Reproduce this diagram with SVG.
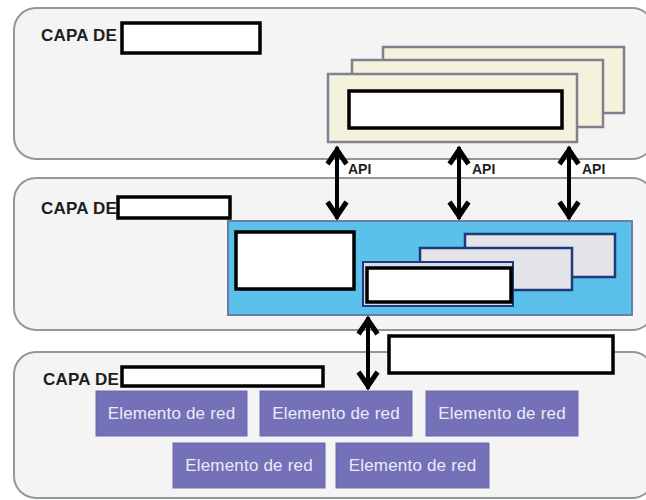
<svg xmlns="http://www.w3.org/2000/svg" width="646" height="500" viewBox="0 0 646 500">
<defs>
<style>
.panel{fill:#f4f4f4;stroke:#8e9998;stroke-width:2}
.lbl{font-family:"Liberation Sans",Arial,sans-serif;font-weight:bold;font-size:17px;letter-spacing:0.2px;fill:#1e1e1e}
.api{font-family:"Liberation Sans",Arial,sans-serif;font-weight:bold;font-size:14px;fill:#1e1e1e}
.blank{fill:#ffffff;stroke:#000000;stroke-width:3.5}
.cream{fill:#f4f1dc;stroke:#80808e;stroke-width:2.5}
.gray{fill:#e4e4e8;stroke:#1e3a7a;stroke-width:2.5}
.blue{fill:#5bc1ea;stroke:#6a7fa8;stroke-width:2}
.ne{fill:#7571b8;stroke:#6c68ae;stroke-width:1}
.net{font-family:"Liberation Sans",Arial,sans-serif;font-size:17px;letter-spacing:0.2px;fill:#ecebf7;text-anchor:middle}
.arr{stroke:#000;stroke-width:4;fill:none;marker-start:url(#head);marker-end:url(#head)}
</style>
<marker id="head" markerUnits="userSpaceOnUse" viewBox="-3 -12 24 24" refX="17" refY="0" markerWidth="24" markerHeight="24" orient="auto-start-reverse">
<path d="M0,-9.5 L14,0 L0,9.5" fill="none" stroke="#000" stroke-width="5" stroke-linejoin="miter"/>
</marker>
</defs>
<rect width="646" height="500" fill="#ffffff"/>

<g id="capa-superior">
<rect class="panel" x="14" y="8" width="640" height="151" rx="22"/>
<text class="lbl" x="41" y="41">CAPA DE</text>
<rect class="blank" x="122" y="23" width="138" height="30"/>
</g>

<g id="aplicaciones">
<rect class="cream" x="383" y="47" width="241" height="66"/>
<rect class="cream" x="352" y="60" width="251" height="67"/>
<rect class="cream" x="328" y="74" width="249" height="68"/>
<rect class="blank" x="349" y="91" width="213" height="37"/>
</g>

<g id="capa-media">
<rect class="panel" x="14" y="178" width="640" height="152" rx="22"/>
<text class="lbl" x="41" y="214">CAPA DE</text>
<rect class="blank" x="118" y="197" width="112" height="21"/>
</g>

<g id="controlador">
<rect class="blue" x="228" y="221" width="404" height="94"/>
<rect class="blank" x="236" y="232" width="118" height="57"/>
<rect class="gray" x="465" y="234" width="150" height="43"/>
<rect class="gray" x="420" y="248" width="152" height="42"/>
<rect x="363" y="262" width="150" height="44" fill="#d9d9ec" stroke="#1e3a7a" stroke-width="2"/>
<rect class="blank" x="367" y="268" width="144" height="34"/>
</g>

<g id="capa-inferior">
<rect class="panel" x="14" y="352" width="640" height="146" rx="22"/>
<text class="lbl" x="43" y="385">CAPA DE</text>
<rect class="blank" x="122" y="367" width="201" height="19"/>
</g>

<g id="etiqueta-interfaz">
<rect class="blank" x="389" y="336" width="224" height="37"/>
</g>

<g id="elemento-1"><rect class="ne" x="96" y="391" width="151" height="45"/><text class="net" x="171.5" y="419">Elemento de red</text></g>
<g id="elemento-2"><rect class="ne" x="260" y="391" width="152" height="45"/><text class="net" x="336" y="419">Elemento de red</text></g>
<g id="elemento-3"><rect class="ne" x="426" y="391" width="152" height="45"/><text class="net" x="502" y="419">Elemento de red</text></g>
<g id="elemento-4"><rect class="ne" x="173" y="443" width="152" height="45"/><text class="net" x="249" y="471">Elemento de red</text></g>
<g id="elemento-5"><rect class="ne" x="336" y="443" width="153" height="45"/><text class="net" x="412.5" y="471">Elemento de red</text></g>

<g id="conectores">
<line class="arr" x1="337" y1="147" x2="337" y2="219"/>
<line class="arr" x1="459" y1="147" x2="459" y2="219"/>
<line class="arr" x1="569" y1="147" x2="569" y2="219"/>
<line class="arr" x1="368" y1="317" x2="368" y2="389"/>
<text class="api" x="348" y="174">API</text>
<text class="api" x="472" y="174">API</text>
<text class="api" x="582" y="174">API</text>
</g>
</svg>
